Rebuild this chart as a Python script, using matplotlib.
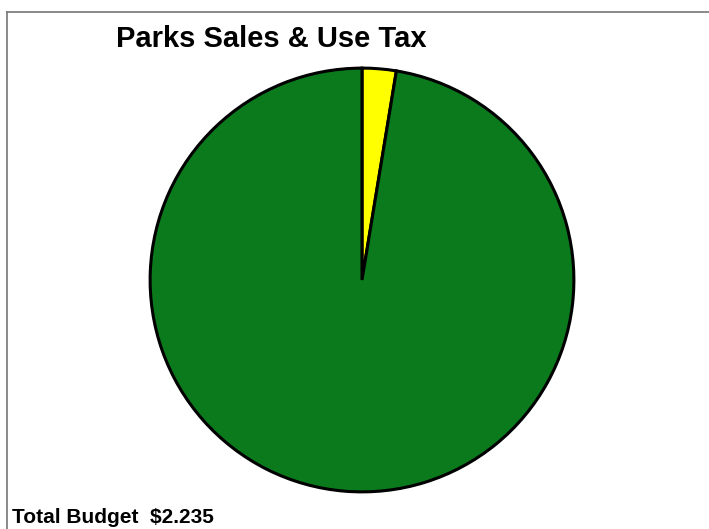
import matplotlib
matplotlib.use("Agg")
import matplotlib.pyplot as plt
from matplotlib.lines import Line2D

# Budget components (millions)
categories = ["Other", "Parks Sales & Use Tax"]
values = [0.058, 2.177]
colors = ["#FFFF00", "#0A7A1C"]
title = "Parks Sales & Use Tax"
footer = "Total Budget  $2.235"

W, H = 709, 529
fig = plt.figure(figsize=(W / 100, H / 100), dpi=100)
fig.patch.set_facecolor("white")

cx, cy, r = 362, 280, 214
ax = fig.add_axes([(cx - r) / W, (H - cy - r) / H, 2 * r / W, 2 * r / H])
ax.pie(values, colors=colors, startangle=90, counterclock=False,
       wedgeprops=dict(edgecolor="black", linewidth=2.2),
       radius=1.0)
ax.set_xlim(-1.01, 1.01)
ax.set_ylim(-1.01, 1.01)
ax.set_aspect("equal")
ax.axis("off")

# frame lines at top and left
fig.add_artist(Line2D([7 / W, 1], [1 - 12 / H, 1 - 12 / H], color="#777777", lw=1.2))
fig.add_artist(Line2D([7 / W, 7 / W], [0, 1 - 12 / H], color="#777777", lw=1.2))

fig.text(271 / W, 1 - 47 / H, title, ha="center", va="baseline",
         fontsize=21, fontweight="bold", family="Liberation Sans")
fig.text(12 / W, 6 / H, footer, ha="left", va="baseline",
         fontsize=15, fontweight="bold", family="Liberation Sans")

fig.savefig("out.png", dpi=100)
